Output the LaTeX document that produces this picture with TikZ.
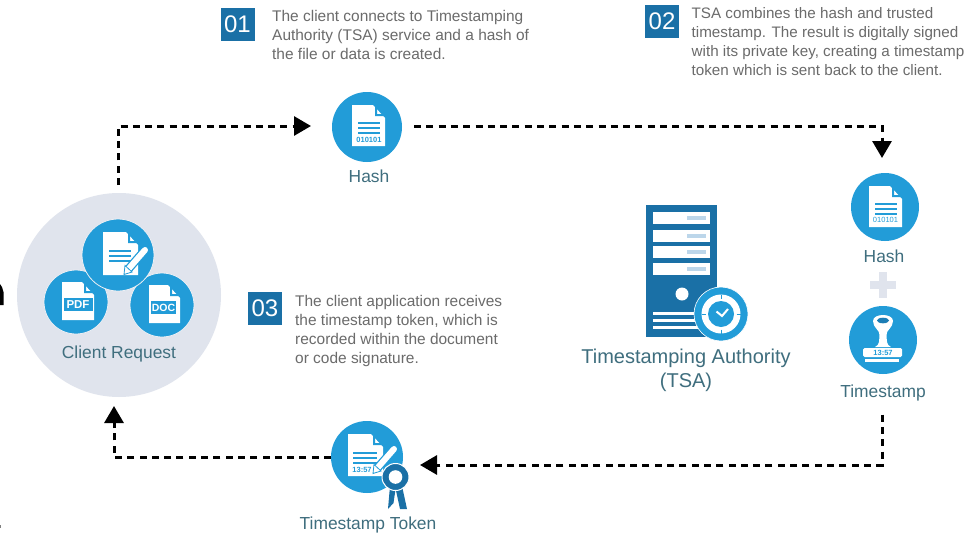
\documentclass[tikz,border=0pt]{standalone}
\usepackage{fontspec}
\setmainfont{Liberation Sans}
\usetikzlibrary{arrows.meta,positioning}

\definecolor{iconblue}{HTML}{229CD8}
\definecolor{serverblue}{HTML}{1A70A6}
\definecolor{labelteal}{HTML}{3F6E7E}
\definecolor{bodygray}{HTML}{6B6B6B}
\definecolor{palegrey}{HTML}{E0E4ED}
\definecolor{slotblue}{HTML}{BCD6EA}

\tikzset{
  iconcircle/.style={circle,fill=iconblue,inner sep=0pt,outer sep=0pt},
  iconlabel/.style={text=labelteal,inner sep=0pt,font=\fontsize{17.4}{20}\selectfont},
  stepbox/.style={fill=serverblue,text=white,inner sep=0pt,minimum width=34pt,minimum height=33pt,font=\fontsize{24}{24}\selectfont},
  steptext/.style={text=bodygray,inner sep=0pt,anchor=north west,align=left,font=\fontsize{15.45}{19}\selectfont},
  flowline/.style={draw=black,line width=3pt,dash pattern=on 7pt off 5.3pt,-{Triangle[length=17pt,width=19pt]}},
  docline/.style={draw=iconblue,line width=1.4pt},
  pics/docsheet/.style n args={2}{code={
    \fill[white] (-#1/2,-#2/2) -- (#1/2-12,-#2/2) -- (#1/2,-#2/2+13) -- (#1/2,#2/2) -- (-#1/2,#2/2) -- cycle;
    \fill[iconblue] (#1/2-10,-#2/2+1) -- (#1/2-10,-#2/2+11) -- (#1/2-1,-#2/2+11) -- (#1/2-3,-#2/2+9) -- (#1/2-8,-#2/2+9) -- (#1/2-8,-#2/2+3) -- cycle;
  }},
  pics/penmark/.style n args={2}{code={
    % white shaft with a blue edge, tip at the first point
    \draw[iconblue,line width=8.5pt] (#1) -- (#2);
    \draw[white,line width=6pt,line cap=round] (#1) -- (#2);
  }}
}

\begin{document}
\begin{tikzpicture}[x=1pt,y=-1pt]
  \useasboundingbox (0,0) rectangle (967,533);
  \clip (0,0) rectangle (967,533);
  \fill[white] (0,0) rectangle (967,533);

  % steps
  \node[stepbox] (stepA) at (237.5,24.5) {01};
  \node[steptext] (stepAtext) at (272,10) {The client connects to Timestamping\\Authority (TSA) service and a hash of\\the file or data is created.};
  \node[stepbox] (stepB) at (662,21) {02};
  \node[steptext,font=\fontsize{15.2}{19}\selectfont] (stepBtext) at (691.5,7.5) {TSA combines the hash and trusted\\timestamp. The result is digitally signed\\with its private key, creating a timestamp\\token which is sent back to the client.};
  \node[stepbox] (stepC) at (265,308) {03};
  \node[steptext] (stepCtext) at (295,295) {The client application receives\\the timestamp token, which is\\recorded within the document\\or code signature.};

  % client request
  \node[circle,fill=palegrey,minimum size=204pt,inner sep=0pt,outer sep=0pt] (clientreq) at (119,295) {};
  \node[iconcircle,minimum size=64pt,draw=palegrey!60!white,line width=0.8pt] (pdfdot) at (76,302) {};
  \node[iconcircle,minimum size=64pt,draw=palegrey!60!white,line width=0.8pt] (docdot) at (162,305) {};
  \node[iconcircle,minimum size=72pt,draw=palegrey!60!white,line width=0.8pt] (signdot) at (118,255) {};
  \pic at (78,301) {docsheet={32}{38}};
  \fill[iconblue] (63.5,298) rectangle (92.5,311);
  \node[text=white,inner sep=0pt,font=\bfseries\fontsize{11.5}{12}\selectfont] (pdftag) at (78,304.5) {PDF};
  \pic at (164.5,304) {docsheet={31}{38}};
  \fill[iconblue] (151,301) rectangle (176,314);
  \node[text=white,inner sep=0pt,font=\bfseries\fontsize{10.5}{12}\selectfont] (doctag) at (163.5,307.5) {DOC};
  \pic at (120.5,253.5) {docsheet={35}{43}};
  \foreach \y in {251,256,261} \draw[docline] (109,\y) -- (131,\y);
  \pic {penmark={128,269.5}{145,250}};
  \fill[white,draw=iconblue,line width=0.8pt] (124,274.5) -- (125,265.5) -- (132,272) -- cycle;
  \node[iconlabel] (clientlabel) at (119,353.5) {Client Request};

  % hash at the top
  \node[iconcircle,minimum size=70pt] (hashA) at (367,127) {};
  \pic at (368.5,125.5) {docsheet={33}{41}};
  \foreach \y in {123,128,133} \draw[docline] (358,\y) -- (380,\y);
  \node[text=iconblue,inner sep=0pt,font=\bfseries\fontsize{7.5}{8}\selectfont] (hashAbits) at (369,140) {010101};
  \node[iconlabel,below=8pt of hashA.south,xshift=2pt] (hashAlabel) {Hash};

  % hash on the right
  \node[iconcircle,minimum size=68pt] (hashB) at (885,207) {};
  \pic at (885.5,206.5) {docsheet={33}{41}};
  \foreach \y in {204,209,214} \draw[docline] (875,\y) -- (897,\y);
  \node[text=iconblue,inner sep=0pt,font=\fontsize{7.5}{8}\selectfont] (hashBbits) at (885.5,220) {010101};
  \node[iconlabel,below=9pt of hashB.south,xshift=-1pt] (hashBlabel) {Hash};
  \fill[palegrey] (870,281) rectangle (896,289);
  \fill[palegrey] (879,272) rectangle (887,298);

  % timestamp
  \node[iconcircle,minimum size=68pt] (stamp) at (883,340) {};
  \fill[white] (875,347) .. controls (880,345) and (879,340) .. (879.5,335) .. controls (880,330) and (873,328) .. (873,321) .. controls (873,313) and (893,313) .. (893,321) .. controls (893,328) and (886,330) .. (886.5,335) .. controls (887,340) and (886,345) .. (891,347) -- cycle;
  \fill[serverblue!70!iconblue] (883,320.5) ellipse (6 and 2.8);
  \fill[white,rounded corners=1.5pt] (863,348) rectangle (902,357);
  \node[text=iconblue,inner sep=0pt,font=\bfseries\fontsize{7.5}{8}\selectfont] (stamptime) at (883,352.5) {13:57};
  \fill[white] (865,359) rectangle (899,362);
  \node[iconlabel,below=11pt of stamp.south] (stamplabel) {Timestamp};

  % server
  \fill[serverblue] (646,205) rectangle (717,337);
  \foreach \y in {212,229.5,246,263} {
    \fill[white] (653,\y) rectangle (710,\y+12);
    \fill[slotblue] (687,\y+4) rectangle (706,\y+8);
  }
  \fill[white] (682,294) circle (6.5);
  \foreach \y in {313,320,327} \fill[white] (653,\y-1.5) rectangle (702,\y+1.5);
  \node[iconcircle,minimum size=54pt,draw=white,line width=0.6pt] (clockface) at (721,314) {};
  \fill[white] (721,314) circle (19.5);
  \fill[iconblue] (721,314) circle (13);
  \foreach \a in {0,90,180,270} \draw[iconblue,line width=0.8pt] (721,314) ++(\a:15.5) -- ++(\a:4);
  \draw[white,line width=2pt] (716.5,311.5) -- (722,316) -- (728,309);
  \node[iconlabel,font=\fontsize{20}{23.5}\selectfont,align=center,anchor=north] (tsalabel) at (686,349) {Timestamping Authority\\(TSA)};

  % timestamp token
  \node[iconcircle,minimum size=72pt] (token) at (367,457) {};
  \pic at (365.5,455) {docsheet={35}{42}};
  \foreach \y in {453,458,463} \draw[docline] (353,\y) -- (377,\y);
  \node[text=iconblue,inner sep=0pt,font=\bfseries\fontsize{7.5}{8}\selectfont] (tokentime) at (362,469.5) {13:57};
  \pic {penmark={377,468.5}{394,449}};
  \fill[white,draw=iconblue,line width=0.8pt] (373,473.5) -- (374,464.5) -- (381,471) -- cycle;
  \fill[serverblue] (390,486) -- (388,509) -- (393.5,503) -- (396,486) -- cycle;
  \fill[serverblue] (395,486) -- (400,509) -- (407,509) -- (402,486) -- cycle;
  \node[circle,fill=serverblue,draw=white,line width=1pt,minimum size=27pt,inner sep=0pt] (medal) at (395.5,477) {};
  \fill[white] (395.5,477) circle (6.8);
  \node[iconlabel] (tokenlabel) at (368,524.5) {Timestamp Token};

  % connectors
  \coordinate (hashBentry) at (882,173);
  \coordinate (tokenentry) at (420,465);
  \coordinate (clientexit) at (114,397);
  \draw[flowline,shorten <=8pt,shorten >=21pt] ([xshift=-1pt]clientreq.north) |- ([yshift=1pt]hashA.west);
  \draw[flowline,shorten <=12pt,shorten >=15pt] ([yshift=1pt]hashA.east) -| (hashBentry);
  \draw[flowline,shorten <=13pt] (stamplabel.south) ++(-1,0) |- (tokenentry);
  \draw[flowline,shorten >=9pt] (token.west) -| (clientexit);

  % cropped marks on the left edge
  \fill[black] (0,284) -- (2,287) -- (3.5,292) -- (3.5,305) -- (0,305) -- cycle;
  \fill[gray] (0,525) rectangle (1,528);
\end{tikzpicture}
\end{document}
